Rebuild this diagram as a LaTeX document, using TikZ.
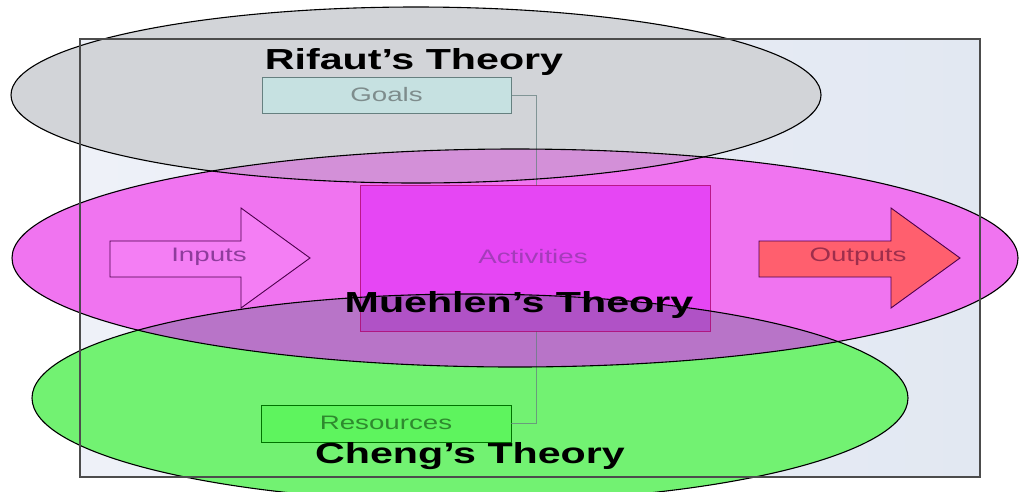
\documentclass[tikz,border=0pt]{standalone}
\usepackage{fontspec}
\setmainfont{Liberation Sans}
\begin{document}
\begin{tikzpicture}[x=1pt,y=-1pt,
  ell/.style={draw=black,line width=1.1pt},
  lbl/.style={xscale=1.42,font=\fontsize{19.5}{21}\selectfont,inner sep=0pt},
  ttl/.style={xscale=1.42,font=\fontsize{29}{31}\selectfont\bfseries,inner sep=0pt,anchor=base,text=black},
  smallbox/.style={rectangle,inner sep=0pt,line width=0.8pt},
  conn/.style={draw=gray!80!teal,line width=0.7pt,opacity=0.75}]
\definecolor{bgL}{HTML}{EEF1F8}
\definecolor{bgR}{HTML}{E2E8F2}
\definecolor{rifaut}{HTML}{D2D4D8}
\definecolor{muehlen}{HTML}{F074F0}
\definecolor{cheng}{HTML}{72F272}
\definecolor{rm}{HTML}{D390D8}
\definecolor{mc}{HTML}{B874C8}
\definecolor{act}{HTML}{E646F4}
\definecolor{actc}{HTML}{B052C6}
\definecolor{goalsfill}{HTML}{C6E1E1}
\definecolor{resfill}{HTML}{5EF45E}
\definecolor{outfill}{HTML}{FF5F6E}
\definecolor{infill}{HTML}{F47EF4}
\definecolor{intext}{HTML}{8E3C9C}
\definecolor{acttext}{HTML}{A43CBA}
\definecolor{outtext}{HTML}{9E2E4C}
\definecolor{goalstext}{HTML}{7E8C8C}
\definecolor{restext}{HTML}{2E8A2E}
\useasboundingbox (0,0) rectangle (1019,491);
\clip (0,0) rectangle (1019,491);
\fill[white] (0,0) rectangle (1019,491);
% background frame
\shade[left color=bgL,right color=bgR] (80,39) rectangle (980,477);
% ellipse fills
\def\rifautE{(416,95) ellipse [x radius=405pt, y radius=88pt]}
\def\muehlenE{(515,258) ellipse [x radius=503pt, y radius=109pt]}
\def\chengE{(470,398) ellipse [x radius=438pt, y radius=104pt]}
\fill[rifaut] \rifautE;
\fill[muehlen] \muehlenE;
\fill[cheng] \chengE;
\begin{scope}
  \clip \rifautE;
  \fill[rm] \muehlenE;
\end{scope}
\begin{scope}
  \clip \muehlenE;
  \fill[mc] \chengE;
\end{scope}
% boxes
\node[smallbox,draw=gray!80!teal,fill=goalsfill,minimum width=249pt,minimum height=36pt] (goals) at (386.5,95) {};
\node[smallbox,draw=green!45!black,fill=resfill,minimum width=250pt,minimum height=37pt] (res) at (386,423.5) {};
\coordinate (c1) at (536,95);
\coordinate (c2) at (536,423.5);
\draw[conn] (goals.east) -- (c1) -- (c2) -- (res.east);
\node[smallbox,fill=act,minimum width=349pt,minimum height=145pt] (act) at (535.5,258.5) {};
\begin{scope}
  \clip \chengE;
  \fill[actc] (act.south west) rectangle (act.north east);
\end{scope}
\draw[draw=purple!60!magenta!80!black,line width=0.8pt,opacity=0.8] (act.south west) rectangle (act.north east);
% arrows
\draw[fill=infill,draw=violet!60!black,line width=0.9pt]
  (110,241) -- (241,241) -- (241,208) -- (310,258) -- (241,308) -- (241,277) -- (110,277) -- cycle;
\draw[fill=outfill,draw=violet!60!black,line width=0.9pt]
  (759,241) -- (891,241) -- (891,208) -- (960,258) -- (891,308) -- (891,277) -- (759,277) -- cycle;
% outlines
\draw[ell] \rifautE;
\draw[ell] \muehlenE;
\draw[ell] \chengE;
\draw[draw=black!70,line width=1.1pt] (80,39) rectangle (980,477);
% labels
\node[lbl,text=goalstext] (tgoals) at (386.5,95) {Goals};
\node[lbl,text=restext] (tres) at (386,423) {Resources};
\node[lbl,text=intext] (tin) at (209,257) {Inputs};
\node[lbl,text=acttext] (tact) at (533,257) {Activities};
\node[lbl,text=outtext] (tout) at (858,257) {Outputs};
% titles
\node[ttl] (trif) at (414,69) {Rifaut’s Theory};
\node[ttl] (tmue) at (519,312) {Muehlen’s Theory};
\node[ttl] (tche) at (470,463) {Cheng’s Theory};
\end{tikzpicture}
\end{document}
